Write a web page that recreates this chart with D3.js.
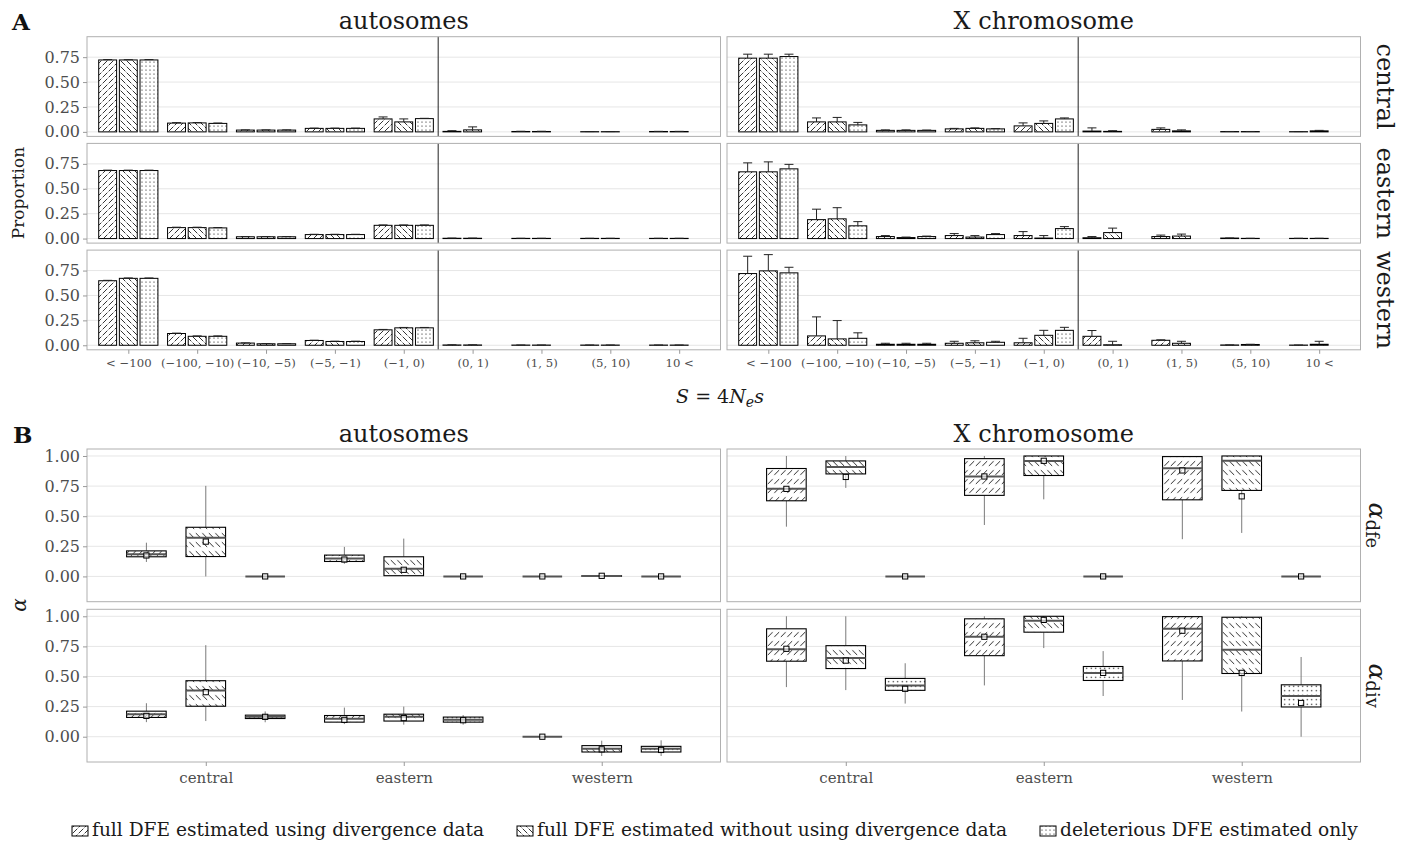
<!DOCTYPE html>
<html><head><meta charset="utf-8">
<script src="https://cdn.jsdelivr.net/npm/d3@7"></script>
<style>
body{margin:0;background:#fff;}
text{font-family:"DejaVu Serif",serif;}
</style></head><body>
<svg id="chart" width="1411" height="844"></svg>
<script>
// ---------------- DATA ----------------
const sClasses = ["< \u2212100","(\u2212100, \u221210)","(\u221210, \u22125)","(\u22125, \u22121)","(\u22121, 0)","(0, 1)","(1, 5)","(5, 10)","10 <"];
const populations = ["central","eastern","western"];
const chromosomes = ["autosomes","X chromosome"];
const alphaTypes = ["dfe","div"];
const methodLabels = ["full DFE estimated using divergence data","full DFE estimated without using divergence data","deleterious DFE estimated only"];
const propTicks = [0,0.25,0.5,0.75];
const alphaTicks = [0,0.25,0.5,0.75,1];

// Panel A: proportion per S class; rows = methods (3rd method has no positive classes)
const propAutoCentral = [[0.722,0.088,0.018,0.035,0.130,0.005,0.004,0.002,0.004],[0.722,0.090,0.018,0.035,0.100,0.020,0.004,0.002,0.004],[0.722,0.085,0.018,0.035,0.133]];
const upAutoCentral   = [[0.726,0.093,0.020,0.038,0.150,0.012,0.006,0.003,0.005],[0.725,0.094,0.020,0.038,0.130,0.050,0.006,0.003,0.005],[0.726,0.089,0.020,0.038,0.136]];
const propAutoEastern = [[0.683,0.110,0.018,0.040,0.133,0.003,0.002,0.002,0.002],[0.683,0.110,0.018,0.040,0.133,0.003,0.002,0.002,0.002],[0.683,0.107,0.018,0.040,0.133]];
const upAutoEastern   = [[0.687,0.114,0.020,0.043,0.137,0.005,0.003,0.003,0.003],[0.687,0.114,0.020,0.043,0.137,0.005,0.003,0.003,0.003],[0.687,0.111,0.020,0.043,0.137]];
const propAutoWestern = [[0.648,0.118,0.022,0.048,0.155,0.003,0.002,0.002,0.002],[0.672,0.090,0.015,0.038,0.175,0.003,0.002,0.002,0.002],[0.672,0.090,0.015,0.038,0.175]];
const upAutoWestern   = [[0.652,0.122,0.024,0.051,0.159,0.005,0.003,0.003,0.003],[0.676,0.094,0.017,0.041,0.179,0.005,0.003,0.003,0.003],[0.676,0.094,0.017,0.041,0.179]];
const propXCentral = [[0.740,0.100,0.015,0.030,0.060,0.008,0.025,0.003,0.002],[0.740,0.100,0.015,0.035,0.085,0.005,0.010,0.003,0.010],[0.756,0.070,0.015,0.030,0.130]];
const upXCentral   = [[0.780,0.140,0.020,0.035,0.090,0.040,0.040,0.004,0.003],[0.780,0.145,0.020,0.040,0.110,0.012,0.020,0.004,0.015],[0.780,0.095,0.018,0.033,0.140]];
const propXEastern = [[0.670,0.190,0.020,0.030,0.030,0.008,0.020,0.005,0.002],[0.670,0.198,0.010,0.015,0.005,0.060,0.025,0.002,0.002],[0.700,0.128,0.020,0.040,0.100]];
const upXEastern   = [[0.760,0.295,0.030,0.050,0.070,0.020,0.035,0.006,0.003],[0.770,0.310,0.015,0.030,0.030,0.105,0.045,0.003,0.003],[0.745,0.170,0.025,0.050,0.120]];
const propXWestern = [[0.720,0.094,0.010,0.020,0.025,0.090,0.050,0.003,0.002],[0.747,0.064,0.010,0.025,0.100,0.005,0.020,0.008,0.010],[0.727,0.070,0.010,0.030,0.150]];
const upXWestern   = [[0.894,0.285,0.020,0.040,0.070,0.148,0.055,0.004,0.003],[0.910,0.248,0.020,0.045,0.150,0.040,0.040,0.010,0.040],[0.783,0.125,0.020,0.040,0.180]];

// Panel B: [lower whisker, q1, median, q3, upper whisker, mean]; rows = population x method
const alphaAutoDfe = [
  [0.120,0.163,0.185,0.212,0.280,0.174],[0.000,0.165,0.322,0.408,0.752,0.289],[0,0,0,0,0,0],
  [0.105,0.124,0.149,0.177,0.245,0.140],[0.005,0.006,0.064,0.163,0.314,0.055],[0,0,0,0,0,0],
  [0,0,0,0,0,0],[0.000,0.001,0.003,0.006,0.012,0.005],[0,0,0,0,0,0]];
const alphaAutoDiv = [
  [0.121,0.160,0.187,0.212,0.278,0.173],[0.130,0.253,0.383,0.465,0.760,0.370],[0.120,0.151,0.165,0.179,0.210,0.165],
  [0.105,0.121,0.149,0.176,0.242,0.140],[0.100,0.130,0.165,0.187,0.250,0.155],[0.100,0.121,0.140,0.163,0.180,0.137],
  [0,0,0,0,0,0],[-0.160,-0.127,-0.100,-0.074,-0.033,-0.105],[-0.160,-0.127,-0.100,-0.080,-0.030,-0.110]];
const alphaXDfe = [
  [0.413,0.628,0.727,0.896,1.000,0.727],[0.735,0.851,0.909,0.959,1.000,0.826],[0,0,0,0,0,0],
  [0.427,0.673,0.830,0.978,1.000,0.830],[0.640,0.838,0.959,1.000,1.000,0.960],[0,0,0,0,0,0],
  [0.309,0.636,0.898,0.995,1.000,0.880],[0.361,0.714,0.960,1.000,1.000,0.665],[0,0,0,0,0,0]];
const alphaXDiv = [
  [0.412,0.627,0.726,0.896,1.000,0.730],[0.387,0.566,0.654,0.756,1.000,0.632],[0.275,0.385,0.426,0.484,0.610,0.398],
  [0.426,0.673,0.830,0.979,1.000,0.830],[0.736,0.868,0.962,1.000,1.000,0.970],[0.338,0.467,0.530,0.583,0.711,0.530],
  [0.305,0.629,0.896,0.997,1.000,0.880],[0.209,0.525,0.723,0.992,1.000,0.530],[0.000,0.247,0.338,0.431,0.662,0.280]];

// ---------------- LAYOUT ----------------
const svg = d3.select("#chart");
const colX = [87, 727], colW = 633.5;
const aTop = [36.7, 143.4, 250.1], aH = 99.7;
const bTop = [449, 609.3], bH = 152.7;
const tickCol = "#4d4d4d", gridCol = "#e6e6e6", borderCol = "#b0b0b0";

// patterns
const defs = svg.append("defs");
function linePattern(id, w, h, d, sw){
  const p = defs.append("pattern").attr("id", id).attr("patternUnits","userSpaceOnUse").attr("width", w).attr("height", h);
  p.append("rect").attr("width", w).attr("height", h).attr("fill","#fff");
  p.append("path").attr("d", d).attr("stroke","#000").attr("stroke-width", sw).attr("fill","none");
}
function dotPattern(id, s, r){
  const p = defs.append("pattern").attr("id", id).attr("patternUnits","userSpaceOnUse").attr("width", s).attr("height", s);
  p.append("rect").attr("width", s).attr("height", s).attr("fill","#fff");
  p.append("circle").attr("cx", s/2).attr("cy", s/2).attr("r", r).attr("fill","#000");
}
linePattern("pA0", 6, 6, "M0.6,5.4L5.4,0.6", 0.8);
linePattern("pA1", 6, 6, "M0.6,0.6L5.4,5.4", 0.8);
dotPattern("pA2", 4, 0.6);
linePattern("pB0", 6.5, 9, "M0.8,7L5.7,2.1", 0.8);
linePattern("pB1", 6.5, 9, "M0.8,2.1L5.7,7", 0.8);
dotPattern("pB2", 4.5, 0.65);
const patA = ["url(#pA0)","url(#pA1)","url(#pA2)"];
const patB = ["url(#pB0)","url(#pB1)","url(#pB2)"];

// ---------------- PANEL A ----------------
const propData = {
  "autosomes": {central:[propAutoCentral, upAutoCentral], eastern:[propAutoEastern, upAutoEastern], western:[propAutoWestern, upAutoWestern]},
  "X chromosome": {central:[propXCentral, upXCentral], eastern:[propXEastern, upXEastern], western:[propXWestern, upXWestern]}
};
const gA = svg.append("g");
chromosomes.forEach((chr, ci) => {
  const x = d3.scalePoint().domain(sClasses).range([colX[ci], colX[ci] + colW]).padding(0.6);
  const step = x.step();
  populations.forEach((pop, ri) => {
    const y = d3.scaleLinear().domain([-0.0455, 0.9555]).range([aTop[ri] + aH, aTop[ri]]);
    const g = gA.append("g");
    g.append("rect").attr("x", colX[ci]).attr("y", aTop[ri]).attr("width", colW).attr("height", aH).attr("fill","#fff");
    propTicks.forEach(t => g.append("line").attr("x1", colX[ci]).attr("x2", colX[ci] + colW).attr("y1", y(t)).attr("y2", y(t)).attr("stroke", gridCol).attr("stroke-width", 1));
    const [vals, ups] = propData[chr][pop];
    vals.forEach((arr, m) => {
      arr.forEach((v, k) => {
        const cx = x(sClasses[k]) + (m - 1) * 0.3 * step;
        const bw = 0.26 * step;
        g.append("rect").attr("x", cx - bw/2).attr("y", y(v)).attr("width", bw).attr("height", y(0) - y(v))
          .attr("fill", patA[m]).attr("stroke", "#000").attr("stroke-width", 1);
        const u = ups[m][k];
        g.append("line").attr("x1", cx).attr("x2", cx).attr("y1", y(v)).attr("y2", y(u)).attr("stroke","#222").attr("stroke-width",1);
        g.append("line").attr("x1", cx - 4.5).attr("x2", cx + 4.5).attr("y1", y(u)).attr("y2", y(u)).attr("stroke","#222").attr("stroke-width",1);
      });
    });
    const sep = x(sClasses[4]) + step / 2;
    g.append("line").attr("x1", sep).attr("x2", sep).attr("y1", aTop[ri]).attr("y2", aTop[ri] + aH).attr("stroke","#222").attr("stroke-width",1);
    g.append("rect").attr("x", colX[ci]).attr("y", aTop[ri]).attr("width", colW).attr("height", aH).attr("fill","none").attr("stroke", borderCol).attr("stroke-width",1);
    if (ci === 0) {
      const ax = g.append("g").attr("transform", `translate(${colX[ci]},0)`)
        .call(d3.axisLeft(y).tickValues(propTicks).tickFormat(d3.format(".2f")).tickSize(4).tickPadding(3));
      ax.select(".domain").remove();
      ax.selectAll(".tick line").attr("stroke", "#999");
      ax.selectAll(".tick text").attr("fill", tickCol).style("font-size","16px").style("font-family","DejaVu Serif");
    }
    if (ri === 2) {
      const ax = g.append("g").attr("transform", `translate(0,${aTop[ri] + aH})`)
        .call(d3.axisBottom(x).tickSize(4).tickPadding(5));
      ax.select(".domain").remove();
      ax.selectAll(".tick line").attr("stroke", "#999");
      ax.selectAll(".tick text").attr("fill", tickCol).style("font-size","11.7px").style("font-family","DejaVu Serif");
    }
    if (ci === 1) {
      g.append("text").attr("transform", `translate(1385,${aTop[ri] + aH/2}) rotate(90)`)
        .attr("text-anchor","middle").attr("dominant-baseline","central").style("font-size","24px").attr("fill","#1a1a1a").text(pop);
    }
  });
  svg.append("text").attr("x", colX[ci] + colW/2).attr("y", 29).attr("text-anchor","middle").style("font-size","24px").attr("fill","#1a1a1a").text(chr);
});

// ---------------- PANEL B ----------------
const alphaData = {
  "autosomes": {dfe: alphaAutoDfe, div: alphaAutoDiv},
  "X chromosome": {dfe: alphaXDfe, div: alphaXDiv}
};
chromosomes.forEach((chr, ci) => {
  const x = d3.scalePoint().domain(populations).range([colX[ci], colX[ci] + colW]).padding(0.6);
  const step = x.step();
  alphaTypes.forEach((at, ri) => {
    const y = d3.scaleLinear().domain([-0.21, 1.058]).range([bTop[ri] + bH, bTop[ri]]);
    const g = svg.append("g");
    alphaTicks.forEach(t => g.append("line").attr("x1", colX[ci]).attr("x2", colX[ci] + colW).attr("y1", y(t)).attr("y2", y(t)).attr("stroke", gridCol).attr("stroke-width", 1));
    const rows = alphaData[chr][at];
    rows.forEach((r, idx) => {
      const p = Math.floor(idx / 3), m = idx % 3;
      const cx = x(populations[p]) + (m - 1) * 0.3 * step;
      const bw = 0.2 * step;
      const [lo, q1, med, q3, hi, mean] = r;
      g.append("line").attr("x1", cx).attr("x2", cx).attr("y1", y(hi)).attr("y2", y(q3)).attr("stroke","#7a7a7a").attr("stroke-width",1);
      g.append("line").attr("x1", cx).attr("x2", cx).attr("y1", y(q1)).attr("y2", y(lo)).attr("stroke","#7a7a7a").attr("stroke-width",1);
      g.append("rect").attr("x", cx - bw/2).attr("y", y(q3)).attr("width", bw).attr("height", Math.max(0, y(q1) - y(q3)))
        .attr("fill", patB[m]).attr("stroke","#000").attr("stroke-width",1.1);
      g.append("line").attr("x1", cx - bw/2).attr("x2", cx + bw/2).attr("y1", y(med)).attr("y2", y(med)).attr("stroke","#555").attr("stroke-width",2);
      g.append("rect").attr("x", cx - 2.6).attr("y", y(mean) - 2.6).attr("width", 5.2).attr("height", 5.2)
        .attr("fill","#fff").attr("fill-opacity",0.6).attr("stroke","#000").attr("stroke-width",1);
    });
    g.append("rect").attr("x", colX[ci]).attr("y", bTop[ri]).attr("width", colW).attr("height", bH).attr("fill","none").attr("stroke", borderCol).attr("stroke-width",1);
    if (ci === 0) {
      const ax = g.append("g").attr("transform", `translate(${colX[ci]},0)`)
        .call(d3.axisLeft(y).tickValues(alphaTicks).tickFormat(d3.format(".2f")).tickSize(4).tickPadding(3));
      ax.select(".domain").remove();
      ax.selectAll(".tick line").attr("stroke", "#999");
      ax.selectAll(".tick text").attr("fill", tickCol).style("font-size","16px").style("font-family","DejaVu Serif");
    }
    if (ri === 1) {
      const ax = g.append("g").attr("transform", `translate(0,${bTop[ri] + bH})`)
        .call(d3.axisBottom(x).tickSize(4).tickPadding(6));
      ax.select(".domain").remove();
      ax.selectAll(".tick line").attr("stroke", "#999");
      ax.selectAll(".tick text").attr("fill", tickCol).style("font-size","15px").style("font-family","DejaVu Serif");
    }
    if (ci === 1) {
      const t = g.append("text").attr("transform", `translate(1378,${bTop[ri] + bH/2}) rotate(90)`)
        .attr("text-anchor","middle").attr("dominant-baseline","central").attr("fill","#1a1a1a");
      t.append("tspan").style("font-size","25px").style("font-style","italic").text("\u03b1");
      t.append("tspan").attr("dy", 5).style("font-size","18px").text(at);
    }
  });
  svg.append("text").attr("x", colX[ci] + colW/2).attr("y", 442).attr("text-anchor","middle").style("font-size","24px").attr("fill","#1a1a1a").text(chr);
});

// ---------------- LABELS ----------------
svg.append("text").attr("x", 12).attr("y", 30).style("font-size","23px").style("font-weight","bold").attr("fill","#111").text("A");
svg.append("text").attr("x", 13).attr("y", 443).style("font-size","23px").style("font-weight","bold").attr("fill","#111").text("B");
svg.append("text").attr("transform","translate(24,193) rotate(-90)").attr("text-anchor","middle").style("font-size","17px").attr("fill","#1a1a1a").text("Proportion");
svg.append("text").attr("transform","translate(26,605) rotate(-90)").attr("text-anchor","middle").style("font-size","20px").style("font-style","italic").attr("fill","#1a1a1a").text("\u03b1");
const sl = svg.append("text").attr("x", 720).attr("y", 403).attr("text-anchor","middle").style("font-size","19px").attr("fill","#1a1a1a");
sl.append("tspan").style("font-style","italic").text("S");
sl.append("tspan").text(" = 4");
sl.append("tspan").style("font-style","italic").text("N");
sl.append("tspan").attr("dy",4).style("font-size","14px").style("font-style","italic").text("e");
sl.append("tspan").attr("dy",-4).style("font-style","italic").text("s");

// legend
const legX = [72, 517, 1040];
methodLabels.forEach((lab, i) => {
  svg.append("rect").attr("x", legX[i]).attr("y", 826).attr("width", 16).attr("height", 10)
    .attr("fill", patA[i]).attr("stroke","#000").attr("stroke-width",1);
  svg.append("text").attr("x", legX[i] + 20).attr("y", 836).style("font-size","18.6px").attr("fill","#1a1a1a").text(lab);
});
</script>
</body></html>
